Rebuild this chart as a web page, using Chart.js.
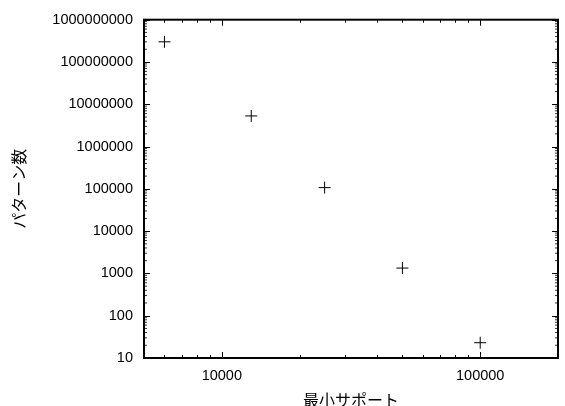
<!DOCTYPE html>
<html>
<head>
<meta charset="utf-8">
<script src="https://cdn.jsdelivr.net/npm/chart.js@4"></script>
<style>
  html, body { margin: 0; padding: 0; background: #fff; }
  #wrap { width: 565px; height: 406px; }
</style>
</head>
<body>
<div id="wrap"><canvas id="c" width="565" height="406"></canvas></div>
<script>
// ---- data ----
const minSupport = [6000, 13000, 25000, 50000, 100000];
const patternCounts = [3.0e8, 5.3e6, 1.07e5, 1340, 23];
const xTickValues = [10000, 100000];
const yTickValues = [10, 100, 1000, 10000, 100000, 1000000, 10000000, 100000000, 1000000000];
const xTitle = '最小サポート';
const yTitle = 'パターン数';

const points = minSupport.map((x, i) => ({ x: x, y: patternCounts[i] }));

function tickSet(min, max) {
  const major = [], minor = [];
  let d = Math.pow(10, Math.floor(Math.log10(min)));
  while (d <= max * 1.0001) {
    for (let k = 1; k <= 9; k++) {
      const v = k * d;
      if (v < min * 0.9999 || v > max * 1.0001) continue;
      if (k === 1) major.push(v); else minor.push(v);
    }
    d *= 10;
  }
  return { major, minor };
}

const framePlugin = {
  id: 'frame',
  afterDatasetsDraw(chart) {
    const ctx = chart.ctx;
    const a = chart.chartArea;
    const xs = chart.scales.x, ys = chart.scales.y;
    ctx.save();
    ctx.strokeStyle = '#000';
    ctx.lineWidth = 1;
    const MAJ = 6, MIN = 3;
    const xt = tickSet(xs.min, xs.max);
    const yt = tickSet(ys.min, ys.max);
    ctx.beginPath();
    const drawX = (v, len, snap) => {
      const raw = xs.getPixelForValue(v);
      const p = snap ? Math.round(raw) + 0.5 : raw;
      ctx.moveTo(p, a.bottom); ctx.lineTo(p, a.bottom - len);
      ctx.moveTo(p, a.top); ctx.lineTo(p, a.top + len);
    };
    const drawY = (v, len, snap) => {
      const raw = ys.getPixelForValue(v);
      const p = snap ? Math.round(raw) + 0.5 : raw;
      ctx.moveTo(a.left, p); ctx.lineTo(a.left + len, p);
      ctx.moveTo(a.right, p); ctx.lineTo(a.right - len, p);
    };
    xt.major.forEach(v => drawX(v, MAJ, true));
    xt.minor.forEach(v => drawX(v, MIN, true));
    yt.major.forEach(v => drawY(v, MAJ, true));
    ctx.stroke();
    ctx.beginPath();
    ctx.lineWidth = 0.8;
    yt.minor.forEach(v => drawY(v, MIN, false));
    ctx.stroke();
    ctx.lineWidth = 2;
    ctx.strokeRect(a.left, a.top, a.right - a.left, a.bottom - a.top);
    ctx.restore();
  }
};

new Chart(document.getElementById('c'), {
  type: 'scatter',
  data: {
    datasets: [{
      data: points,
      pointStyle: 'cross',
      pointRadius: 6,
      pointHoverRadius: 6,
      borderColor: '#000',
      backgroundColor: '#000',
      borderWidth: 1
    }]
  },
  plugins: [framePlugin],
  options: {
    responsive: false,
    animation: false,
    devicePixelRatio: 1,
    layout: { padding: { left: 0, right: 6, top: 18, bottom: 0 } },
    plugins: { legend: { display: false }, tooltip: { enabled: false } },
    scales: {
      x: {
        type: 'logarithmic',
        position: 'bottom',
        min: 5000,
        max: 200000,
        bounds: 'data',
        afterBuildTicks: s => { s.ticks = xTickValues.map(v => ({ value: v })); },
        afterFit: s => { s.height = 48; },
        grid: { display: false, drawTicks: false },
        border: { display: false },
        ticks: {
          padding: 9,
          maxRotation: 0,
          autoSkip: false,
          color: '#000',
          font: { family: 'Liberation Sans', size: 14.5 },
          callback: v => String(v)
        },
        title: {
          display: true,
          text: xTitle,
          color: '#000',
          padding: { top: 0, bottom: 0 },
          font: { family: 'Noto Sans CJK JP', size: 16, lineHeight: 0.75 }
        }
      },
      y: {
        type: 'logarithmic',
        position: 'left',
        min: 10,
        max: 1e9,
        bounds: 'data',
        afterBuildTicks: s => { s.ticks = yTickValues.map(v => ({ value: v })); },
        afterFit: s => { s.width = 144; },
        grid: { display: false, drawTicks: false },
        border: { display: false },
        ticks: {
          padding: 11,
          autoSkip: false,
          color: '#000',
          font: { family: 'Liberation Sans', size: 14.5 },
          callback: v => String(v)
        },
        title: {
          display: true,
          text: yTitle,
          color: '#000',
          padding: { top: 9, bottom: 0 },
          font: { family: 'Noto Sans CJK JP', size: 16 }
        }
      }
    }
  }
});
</script>
</body>
</html>
